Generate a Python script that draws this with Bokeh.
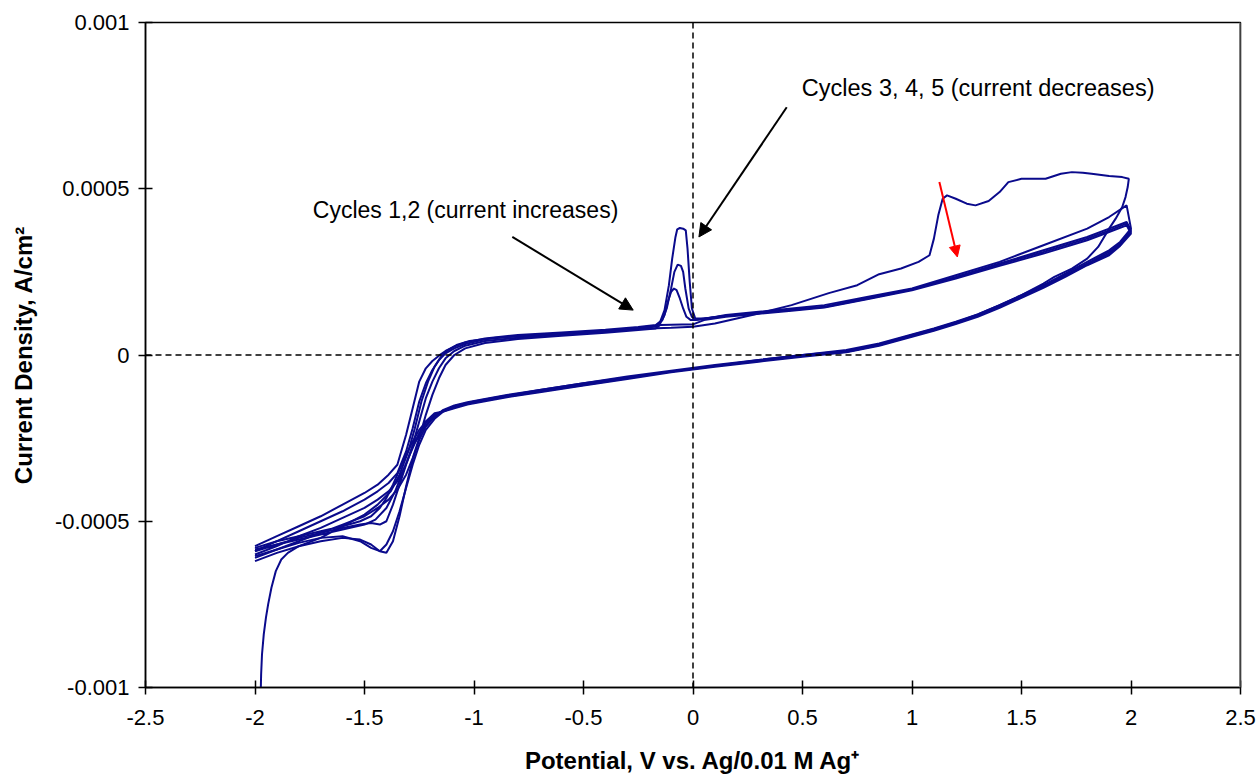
import numpy as np
from bokeh.plotting import figure
from bokeh.models import Range1d, FixedTicker, Span, Arrow, NormalHead, Label
from bokeh.embed import file_html
from bokeh.resources import INLINE

# ---------------- data (potential in V, current density in 1e-4 A/cm^2) ----------------
c1_v = [-1.975, -1.972, -1.968, -1.96, -1.95, -1.94, -1.925, -1.905, -1.88, -1.85, -1.8, -1.7, -1.6, -1.5,
        -1.44, -1.38, -1.34, -1.3, -1.27, -1.24, -1.21, -1.18, -1.15, -1.12, -1.08, -1.02, -0.9, -0.7, -0.5,
        -0.3, -0.2, -0.1, 0.0, 0.1, 0.2, 0.3, 0.45, 0.62, 0.75, 0.85, 0.95, 1.03, 1.08, 1.1, 1.12, 1.14, 1.16,
        1.2, 1.25, 1.29, 1.35, 1.4, 1.44, 1.5, 1.61, 1.68, 1.73, 1.78, 1.82, 1.9, 1.96, 1.99, 1.985, 1.975,
        1.96, 1.93, 1.9, 1.85, 1.8, 1.73, 1.65, 1.6, 1.5, 1.4, 1.3, 1.2, 1.1, 1.0, 0.85, 0.7, 0.5, 0.3, 0.1,
        -0.1, -0.3, -0.5, -0.7, -0.9, -1.0, -1.08, -1.14, -1.19, -1.23, -1.27, -1.3, -1.33, -1.36, -1.4,
        -1.45, -1.5, -1.6, -1.7, -1.8, -1.9, -2.0]
c1_j = [-10.5, -9.6, -9.0, -8.4, -7.9, -7.5, -7.0, -6.5, -6.15, -5.95, -5.75, -5.5, -5.15, -4.8,
        -4.5, -4.1, -3.6, -2.9, -2.2, -1.4, -0.8, -0.35, -0.05, 0.15, 0.3, 0.42, 0.52, 0.6, 0.68,
        0.76, 0.8, 0.82, 0.85, 0.95, 1.1, 1.25, 1.5, 1.86, 2.1, 2.43, 2.6, 2.8, 3.0, 3.5, 4.2, 4.7, 4.8,
        4.7, 4.55, 4.5, 4.63, 4.9, 5.2, 5.3, 5.3, 5.45, 5.5, 5.48, 5.45, 5.38, 5.35, 5.3, 5.05, 4.75,
        4.45, 4.1, 3.8, 3.25, 2.9, 2.6, 2.35, 2.15, 1.8, 1.5, 1.22, 1.0, 0.8, 0.62, 0.35, 0.15, 0.0, -0.15, -0.33,
        -0.5, -0.68, -0.85, -1.05, -1.28, -1.4, -1.52, -1.68, -1.9, -2.2, -2.65, -3.1, -3.6, -4.1, -4.6,
        -4.95, -5.1, -5.25, -5.4, -5.55, -5.7, -5.85]

an_v = [-2.0, -1.9, -1.8, -1.7, -1.6, -1.5, -1.44, -1.39, -1.35, -1.31, -1.28, -1.25, -1.22, -1.19,
        -1.16, -1.13, -1.09, -1.04, -0.95, -0.8, -0.6, -0.4, -0.25, -0.17]
an2_v = [0.05, 0.15, 0.3, 0.45, 0.6, 0.8, 1.0, 1.2, 1.4, 1.6, 1.8, 1.9, 1.98]
ca_v = [2.0, 1.95, 1.9, 1.8, 1.7, 1.6, 1.5, 1.4, 1.3, 1.2, 1.1, 1.0, 0.85, 0.7, 0.5, 0.3, 0.1, -0.1,
        -0.3, -0.5, -0.7, -0.85, -0.95, -1.03, -1.09, -1.14, -1.18, -1.22, -1.25, -1.28, -1.31, -1.34,
        -1.37, -1.4, -1.43, -1.47, -1.52, -1.6, -1.7, -1.8, -1.9, -2.0]

# cycle 2
c2_an_j = [-5.75, -5.45, -5.15, -4.85, -4.5, -4.15, -3.9, -3.6, -3.3, -2.4, -1.6, -0.8, -0.4, -0.18,
           -0.02, 0.12, 0.25, 0.38, 0.5, 0.6, 0.68, 0.76, 0.84, 0.9]
c2_pk_v = [-0.14, -0.12, -0.1, -0.085, -0.07, -0.055, -0.045, -0.035, -0.02, -0.005, 0.01]
c2_pk_j = [1.05, 1.4, 2.0, 2.5, 2.72, 2.68, 2.5, 2.0, 1.4, 1.15, 1.05]
c2_an2_j = [1.08, 1.2, 1.3, 1.4, 1.5, 1.75, 2.0, 2.4, 2.8, 3.3, 3.8, 4.15, 4.5]
c2_ca_j = [3.8, 3.4, 3.15, 2.8, 2.45, 2.1, 1.8, 1.5, 1.22, 0.98, 0.78, 0.6, 0.32, 0.12, 0.0, -0.15,
           -0.3, -0.47, -0.65, -0.85, -1.05, -1.2, -1.32, -1.42, -1.52, -1.65, -1.85, -2.15, -2.55,
           -3.15, -3.95, -4.85, -5.6, -5.95, -5.9, -5.7, -5.55, -5.5, -5.6, -5.75, -5.95, -6.2]

# cycle 3
c3_an_j = [-5.9, -5.6, -5.3, -5.0, -4.7, -4.35, -4.1, -3.85, -3.55, -2.9, -2.2, -1.4, -0.85, -0.45,
           -0.15, 0.05, 0.2, 0.33, 0.47, 0.57, 0.65, 0.73, 0.82, 0.88]
c3_pk_v = [-0.15, -0.13, -0.11, -0.095, -0.08, -0.072, -0.06, -0.045, -0.033, -0.025, -0.015, -0.005, 0.01]
c3_pk_j = [1.0, 1.35, 2.1, 2.9, 3.55, 3.78, 3.82, 3.8, 3.75, 3.2, 2.2, 1.4, 1.1]
c3_an2_j = [1.1, 1.18, 1.27, 1.36, 1.45, 1.72, 1.98, 2.35, 2.75, 3.15, 3.55, 3.8, 4.0]
c3_ca_j = [3.75, 3.35, 3.1, 2.75, 2.4, 2.08, 1.78, 1.48, 1.2, 0.96, 0.76, 0.58, 0.3, 0.1, -0.02, -0.17,
           -0.32, -0.5, -0.68, -0.88, -1.08, -1.23, -1.35, -1.45, -1.56, -1.7, -1.92, -2.25, -2.7,
           -3.3, -4.0, -4.7, -5.3, -5.7, -5.9, -5.8, -5.6, -5.45, -5.5, -5.65, -5.85, -6.05]

# cycle 4
c4_an_j = [-6.0, -5.75, -5.45, -5.2, -4.9, -4.6, -4.35, -4.1, -3.8, -3.3, -2.7, -2.0, -1.3, -0.8,
           -0.4, -0.1, 0.12, 0.28, 0.42, 0.52, 0.62, 0.71, 0.8, 0.86]
c4_pk_v = [-0.15, -0.13, -0.115, -0.1, -0.087, -0.075, -0.06, -0.045, -0.03, -0.01, 0.01]
c4_pk_j = [0.95, 1.2, 1.6, 1.9, 2.0, 1.95, 1.7, 1.4, 1.15, 1.05, 1.05]
c4_an2_j = [1.1, 1.17, 1.26, 1.35, 1.44, 1.7, 1.97, 2.33, 2.72, 3.1, 3.5, 3.75, 3.95]
c4_ca_j = [3.7, 3.3, 3.05, 2.72, 2.38, 2.05, 1.75, 1.45, 1.18, 0.95, 0.75, 0.57, 0.3, 0.1, -0.03, -0.18,
           -0.33, -0.5, -0.7, -0.9, -1.1, -1.25, -1.37, -1.47, -1.58, -1.68, -1.8, -2.05, -2.35,
           -2.75, -3.3, -3.9, -4.5, -5.0, -5.1, -5.05, -5.1, -5.2, -5.35, -5.5, -5.7, -5.9]

# cycle 5
c5_an_j = [-6.1, -5.85, -5.6, -5.35, -5.1, -4.85, -4.6, -4.35, -4.05, -3.6, -3.1, -2.5, -1.8, -1.2,
           -0.7, -0.3, 0.0, 0.2, 0.36, 0.48, 0.58, 0.67, 0.75, 0.8]
c5_pk_v = [-0.15, -0.1, -0.05, 0.0]
c5_pk_j = [0.9, 0.91, 0.92, 0.92]
c5_an2_j = [1.05, 1.15, 1.24, 1.33, 1.43, 1.68, 1.95, 2.3, 2.68, 3.05, 3.45, 3.7, 3.9]
c5_ca_j = [3.65, 3.28, 3.0, 2.7, 2.35, 2.02, 1.72, 1.42, 1.15, 0.93, 0.73, 0.55, 0.28, 0.08, -0.05, -0.2,
           -0.35, -0.52, -0.72, -0.92, -1.12, -1.27, -1.39, -1.49, -1.6, -1.7, -1.75, -2.0, -2.25,
           -2.6, -3.0, -3.45, -3.9, -4.3, -4.6, -4.85, -5.0, -5.15, -5.3, -5.45, -5.6, -5.8]

x_ticks = [-2.5, -2.0, -1.5, -1.0, -0.5, 0.0, 0.5, 1.0, 1.5, 2.0, 2.5]
x_tick_labels = ["-2.5", "-2", "-1.5", "-1", "-0.5", "0", "0.5", "1", "1.5", "2", "2.5"]
y_ticks = [-0.001, -0.0005, 0.0, 0.0005, 0.001]
y_tick_labels = ["-0.001", "-0.0005", "0", "0.0005", "0.001"]

note_texts = ["Cycles 1,2 (current increases)", "Cycles 3, 4, 5 (current decreases)"]

# ---------------- figure ----------------
FONT = "Liberation Sans"
LINE = "#0A0A8C"

p = figure(width=1257, height=776, x_range=Range1d(-2.5, 2.5), y_range=Range1d(-0.001, 0.001),
           output_backend="svg", toolbar_location=None,
           min_border_left=145, min_border_right=17, min_border_top=22, min_border_bottom=89)
p.xgrid.visible = False
p.ygrid.visible = False
p.outline_line_color = "black"
p.outline_line_width = 1.5
p.background_fill_color = "white"
p.border_fill_color = "white"

def build(parts_v, parts_j):
    v = np.concatenate([np.asarray(a, float) for a in parts_v])
    j = np.concatenate([np.asarray(a, float) for a in parts_j]) * 1e-4
    return v, j

cycles = [
    build([c1_v], [c1_j]),
    build([an_v, c2_pk_v, an2_v, ca_v], [c2_an_j, c2_pk_j, c2_an2_j, c2_ca_j]),
    build([an_v, c3_pk_v, an2_v, ca_v], [c3_an_j, c3_pk_j, c3_an2_j, c3_ca_j]),
    build([an_v, c4_pk_v, an2_v, ca_v], [c4_an_j, c4_pk_j, c4_an2_j, c4_ca_j]),
    build([an_v, c5_pk_v, an2_v, ca_v], [c5_an_j, c5_pk_j, c5_an2_j, c5_ca_j]),
]

# dashed zero lines
p.add_layout(Span(location=0, dimension="width", line_color="black", line_dash="6 4", line_width=1.5))
p.add_layout(Span(location=0, dimension="height", line_color="black", line_dash="6 4", line_width=1.5))

for v, j in cycles:
    p.line(v, j, line_color=LINE, line_width=2)

# right border gray
p.add_layout(Span(location=2.5, dimension="height", line_color="#808080", line_width=3))

# axes
for ax, ticks, labels in ((p.xaxis[0], x_ticks, x_tick_labels), (p.yaxis[0], y_ticks, y_tick_labels)):
    ax.ticker = FixedTicker(ticks=ticks)
    ax.major_label_overrides = {t: l for t, l in zip(ticks, labels)}
    ax.minor_tick_line_color = None
    ax.major_tick_in = 7
    ax.major_tick_out = 7
    ax.axis_line_color = "black"
    ax.axis_line_width = 1.5
    ax.major_tick_line_width = 1.5
    ax.major_label_text_font = FONT
    ax.major_label_text_font_size = "22px"
    ax.major_label_text_color = "black"
    ax.axis_label_text_font = FONT
    ax.axis_label_text_font_style = "bold"
    ax.axis_label_text_font_size = "24px"
    ax.axis_label_text_color = "black"

p.xaxis.axis_label = "Potential, V vs. Ag/0.01 M Ag\u207a"
p.yaxis.axis_label = "Current Density, A/cm\u00b2"
p.xaxis.major_label_standoff = 15
p.xaxis.axis_label_standoff = 19
p.yaxis.major_label_standoff = 9
p.yaxis.axis_label_standoff = 15

# annotations
p.add_layout(Label(x=-1.736, y=0.000436, text=note_texts[0], text_font=FONT, text_font_size="23px",
                   text_baseline="middle", text_align="left", text_color="black"))
p.add_layout(Label(x=0.497, y=0.000803, text=note_texts[1], text_font=FONT, text_font_size="23.5px",
                   text_baseline="middle", text_align="left", text_color="black"))

p.add_layout(Arrow(end=NormalHead(size=13, fill_color="black", line_color="black"),
                   x_start=-0.825, y_start=0.000355, x_end=-0.273, y_end=0.000135,
                   line_color="black", line_width=2))
p.add_layout(Arrow(end=NormalHead(size=13, fill_color="black", line_color="black"),
                   x_start=0.428, y_start=0.000745, x_end=0.027, y_end=0.000355,
                   line_color="black", line_width=2))
p.add_layout(Arrow(end=NormalHead(size=11, fill_color="red", line_color="red"),
                   x_start=1.125, y_start=0.00052, x_end=1.207, y_end=0.000295,
                   line_color="red", line_width=2))

open("out.html", "w").write(file_html(p, INLINE))
